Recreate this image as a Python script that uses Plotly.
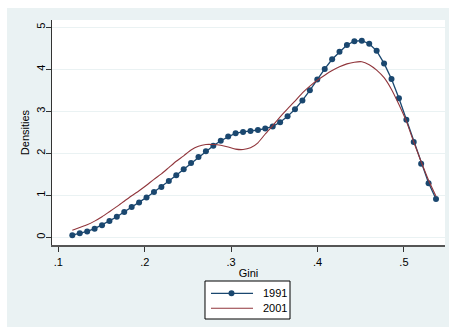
import plotly.graph_objects as go

gini = [0.1162, 0.1248, 0.1334, 0.1420, 0.1506, 0.1592, 0.1677, 0.1763, 0.1849, 0.1935,
        0.2021, 0.2107, 0.2193, 0.2279, 0.2365, 0.2451, 0.2536, 0.2622, 0.2708, 0.2794,
        0.2880, 0.2966, 0.3052, 0.3138, 0.3224, 0.3310, 0.3395, 0.3481, 0.3567, 0.3653,
        0.3739, 0.3825, 0.3911, 0.3997, 0.4083, 0.4169, 0.4254, 0.4340, 0.4426, 0.4512,
        0.4598, 0.4684, 0.4770, 0.4856, 0.4942, 0.5028, 0.5113, 0.5199, 0.5285, 0.5371]

dens_1991 = [0.05, 0.095, 0.14, 0.205, 0.29, 0.39, 0.49, 0.60, 0.72, 0.83,
             0.95, 1.08, 1.20, 1.34, 1.48, 1.62, 1.77, 1.91, 2.05, 2.18,
             2.30, 2.40, 2.48, 2.51, 2.53, 2.555, 2.59, 2.64, 2.74, 2.88,
             3.05, 3.26, 3.50, 3.76, 4.01, 4.24, 4.42, 4.58, 4.67, 4.68,
             4.61, 4.44, 4.14, 3.77, 3.31, 2.80, 2.27, 1.75, 1.29, 0.91]

dens_2001 = [0.17, 0.235, 0.30, 0.385, 0.49, 0.61, 0.73, 0.86, 0.99, 1.11,
             1.24, 1.38, 1.51, 1.66, 1.81, 1.94, 2.08, 2.17, 2.21, 2.21,
             2.19, 2.15, 2.10, 2.09, 2.13, 2.25, 2.46, 2.66, 2.87, 3.06,
             3.24, 3.44, 3.60, 3.74, 3.86, 3.97, 4.06, 4.13, 4.17, 4.18,
             4.11, 3.98, 3.80, 3.52, 3.16, 2.76, 2.27, 1.80, 1.36, 0.98]

series_names = ["1991", "2001"]

x_ticks = [0.1, 0.2, 0.3, 0.4, 0.5]
x_ticktext = [".1", ".2", ".3", ".4", ".5"]
y_ticks = [0, 1, 2, 3, 4, 5]
y_ticktext = ["0", "1", "2", "3", "4", "5"]

NAVY = "#1A476F"
MAROON = "#90353B"
BG = "#EAF2F3"
FONT = "Arial, Liberation Sans, sans-serif"

fig = go.Figure()
fig.add_trace(go.Scatter(x=gini, y=dens_1991, mode="lines+markers", name=series_names[0],
                         line=dict(color=NAVY, width=1.3),
                         marker=dict(color=NAVY, size=6, symbol="circle")))
fig.add_trace(go.Scatter(x=gini, y=dens_2001, mode="lines", name=series_names[1],
                         line=dict(color=MAROON, width=1.1, shape="spline", smoothing=0.6)))

# legend box (drawn as a Stata-style key below the plot)
lg_x0, lg_x1, lg_y0, lg_y1 = 0.3893, 0.6056, -0.3289, -0.16
row_y = [-0.2147, -0.2813]
key_x0, key_x1, key_mid, txt_x = 0.4046, 0.5115, 0.4567, 0.5318

shapes = [
    dict(type="rect", xref="paper", yref="paper", x0=-0.2, x1=-0.1145, y0=-0.5, y1=1.2,
         fillcolor="white", line=dict(width=0), layer="below"),
    dict(type="rect", xref="paper", yref="paper", x0=-0.2, x1=1.2, y0=1.0533, y1=1.2,
         fillcolor="white", line=dict(width=0), layer="below"),
    dict(type="rect", xref="paper", yref="paper", x0=lg_x0, x1=lg_x1, y0=lg_y0, y1=lg_y1,
         fillcolor="white", line=dict(color="black", width=1)),
    dict(type="line", xref="paper", yref="paper", x0=key_x0, x1=key_x1, y0=row_y[0], y1=row_y[0],
         line=dict(color=NAVY, width=1.3)),
    dict(type="circle", xref="paper", yref="paper", xsizemode="pixel", ysizemode="pixel",
         xanchor=key_mid, yanchor=row_y[0], x0=-3, x1=3, y0=-3, y1=3,
         fillcolor=NAVY, line=dict(width=0)),
    dict(type="line", xref="paper", yref="paper", x0=key_x0, x1=key_x1, y0=row_y[1], y1=row_y[1],
         line=dict(color=MAROON, width=1.1)),
]
annotations = [
    dict(text=series_names[i], xref="paper", yref="paper", x=txt_x, y=row_y[i],
         xanchor="left", yanchor="middle", showarrow=False, font=dict(size=11, color="black"))
    for i in range(2)
]

fig.update_layout(
    width=449, height=327,
    margin=dict(l=52, r=4, t=20, b=82, pad=0),
    paper_bgcolor=BG, plot_bgcolor="white",
    font=dict(family=FONT, size=11, color="black"),
    showlegend=False,
    xaxis=dict(range=[0.0927, 0.5475], tickvals=x_ticks, ticktext=x_ticktext,
               ticks="outside", ticklen=5, tickcolor="#333", tickwidth=1,
               ticklabelstandoff=1,
               showline=True, linecolor="#555", linewidth=1.5,
               showgrid=False, zeroline=False,
               title=dict(text="Gini", standoff=2, font=dict(size=11))),
    yaxis=dict(range=[-0.183, 5.174], tickvals=y_ticks, ticktext=y_ticktext,
               tickangle=-90, ticks="outside", ticklen=5, tickcolor="#333", tickwidth=1,
               ticklabelstandoff=-3,
               showline=True, linecolor="#333", linewidth=1.2,
               showgrid=True, gridcolor=BG, gridwidth=1, zeroline=False,
               title=dict(text="Densities", standoff=2, font=dict(size=11))),
    shapes=shapes,
    annotations=annotations,
)

fig.write_html("out.html")
